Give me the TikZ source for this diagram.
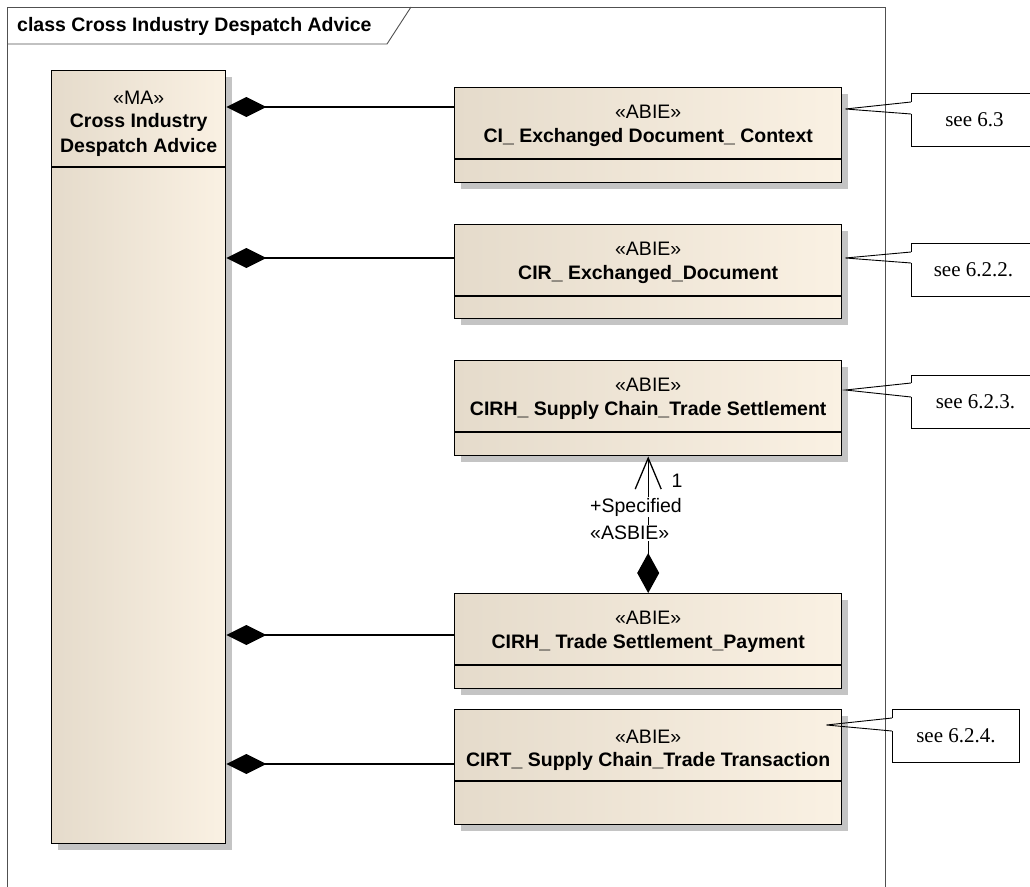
\documentclass[tikz,border=0pt]{standalone}
\usepackage{fontspec}
\setmainfont{Liberation Sans}
\newfontfamily\notefont{Liberation Serif}
\usetikzlibrary{arrows.meta,shadows}
\definecolor{clsL}{RGB}{229,219,203}
\definecolor{clsR}{RGB}{250,241,227}
\definecolor{shd}{RGB}{196,196,196}
\definecolor{frm}{RGB}{80,80,80}
\begin{document}
\begin{tikzpicture}[x=1pt,y=-1pt,
  cls/.style={draw=black, line width=1.4pt, left color=clsL, right color=clsR,
    anchor=north west, inner sep=0pt, minimum width=387pt,
    drop shadow={shadow xshift=6pt, shadow yshift=-6pt, fill=shd, opacity=1}},
  cline/.style={draw=black, line width=1.4pt},
  stereo/.style={font=\fontsize{19.5}{22}\selectfont, inner sep=0pt},
  cname/.style={font=\fontsize{19.5}{22}\selectfont\bfseries, inner sep=0pt},
  lbl/.style={font=\fontsize{19.5}{22}\selectfont, inner sep=1pt},
  comp/.style={line width=1.3pt, {Diamond[length=40pt,width=20pt]}-},
  frm/.style={draw=frm, line width=0.9pt},
  note/.style={draw=black, line width=0.9pt, fill=white, anchor=north west,
    minimum height=53pt, inner sep=0pt, font={\notefont\fontsize{21}{24}\selectfont}},
  gap/.style={draw=white, line width=1.8pt},
  wedge/.style={draw=black, line width=0.9pt}
]
\useasboundingbox (0,0) rectangle (1030,886);
\clip (0,0) rectangle (1030,886);
\fill[white] (0,0) rectangle (1030,886);

% frame
\draw[frm] (885,900) -- (885,7) -- (7,7) -- (7,900);
\draw[frm] (7,44) -- (387,44) -- (411,7);
\node[cname, anchor=west] (title) at (17,26) {class Cross Industry Despatch Advice};

% main class
\node[cls, minimum width=174pt, minimum height=773pt] (ma) at (51,70) {};
\node[stereo] (mas) at (ma.north |- 0,98) {«MA»};
\node[cname] (man1) at (ma.north |- 0,122) {Cross Industry};
\node[cname] (man2) at (ma.north |- 0,147) {Despatch Advice};
\draw[cline] (ma.west |- 0,167) -- (ma.east |- 0,167);

% box 1
\node[cls, minimum height=95pt] (b1) at (454,87) {};
\node[stereo] (b1s) at (b1.north |- 0,112) {«ABIE»};
\node[cname] (b1n) at (b1.north |- 0,137) {CI\_ Exchanged Document\_ Context};
\draw[cline] (b1.west |- 0,159) -- (b1.east |- 0,159);

% box 2
\node[cls, minimum height=94pt] (b2) at (454,224) {};
\node[stereo] (b2s) at (b2.north |- 0,249) {«ABIE»};
\node[cname] (b2n) at (b2.north |- 0,274) {CIR\_ Exchanged\_Document};
\draw[cline] (b2.west |- 0,296) -- (b2.east |- 0,296);

% box 3
\node[cls, minimum height=95pt] (b3) at (454,360) {};
\node[stereo] (b3s) at (b3.north |- 0,385) {«ABIE»};
\node[cname] (b3n) at (b3.north |- 0,410) {CIRH\_ Supply Chain\_Trade Settlement};
\draw[cline] (b3.west |- 0,432) -- (b3.east |- 0,432);

% box 4
\node[cls, minimum height=95pt] (b4) at (454,593) {};
\node[stereo] (b4s) at (b4.north |- 0,618) {«ABIE»};
\node[cname] (b4n) at (b4.north |- 0,643) {CIRH\_ Trade Settlement\_Payment};
\draw[cline] (b4.west |- 0,665) -- (b4.east |- 0,665);

% box 5
\node[cls, minimum height=115pt] (b5) at (454,709) {};
\node[stereo] (b5s) at (b5.north |- 0,737) {«ABIE»};
\node[cname] (b5n) at (b5.north |- 0,761) {CIRT\_ Supply Chain\_Trade Transaction};
\draw[cline] (b5.west |- 0,781) -- (b5.east |- 0,781);

% compositions
\draw[comp] (ma.east |- 0,107) -- (b1.west |- 0,107);
\draw[comp] (ma.east |- 0,258) -- (b2.west |- 0,258);
\draw[comp] (ma.east |- 0,635) -- (b4.west |- 0,635);
\draw[comp] (ma.east |- 0,764) -- (b5.west |- 0,764);

% ASBIE association
\draw[line width=1.3pt, {Diamond[length=40pt,width=22pt]}-{Straight Barb[length=31pt,width=26pt]}] (b4.north) -- (b3.south);
\node[lbl] (mult) at (677,481) {1};
\node[lbl, anchor=west, fill=white] (role) at (589,507) {+Specified};
\node[lbl, anchor=west, fill=white] (stype) at (589,533) {«ASBIE»};

% notes
\node[note, minimum width=126pt] (n1) at (911,93) {see 6.3};
\coordinate (t1) at ([xshift=3pt]b1.east |- 0,109);
\draw[gap] (n1.west |- 0,102) -- (n1.west |- 0,114);
\draw[wedge] (n1.west |- 0,102) -- (t1) -- (n1.west |- 0,114);

\node[note, minimum width=124pt] (n2) at (911,243) {see 6.2.2.};
\coordinate (t2) at ([xshift=3pt]b2.east |- 0,258);
\draw[gap] (n2.west |- 0,252) -- (n2.west |- 0,263);
\draw[wedge] (n2.west |- 0,252) -- (t2) -- (n2.west |- 0,263);

\node[note, minimum width=128pt] (n3) at (911,375) {see 6.2.3.};
\coordinate (t3) at ([xshift=3pt]b3.east |- 0,390);
\draw[gap] (n3.west |- 0,383) -- (n3.west |- 0,397);
\draw[wedge] (n3.west |- 0,383) -- (t3) -- (n3.west |- 0,397);

\node[note, minimum width=127pt] (n4) at (892,709) {see 6.2.4.};
\coordinate (t4) at ([xshift=-16pt]b5.east |- 0,725);
\draw[gap] (n4.west |- 0,718) -- (n4.west |- 0,731);
\draw[wedge] (n4.west |- 0,718) -- (t4) -- (n4.west |- 0,731);
\end{tikzpicture}
\end{document}
